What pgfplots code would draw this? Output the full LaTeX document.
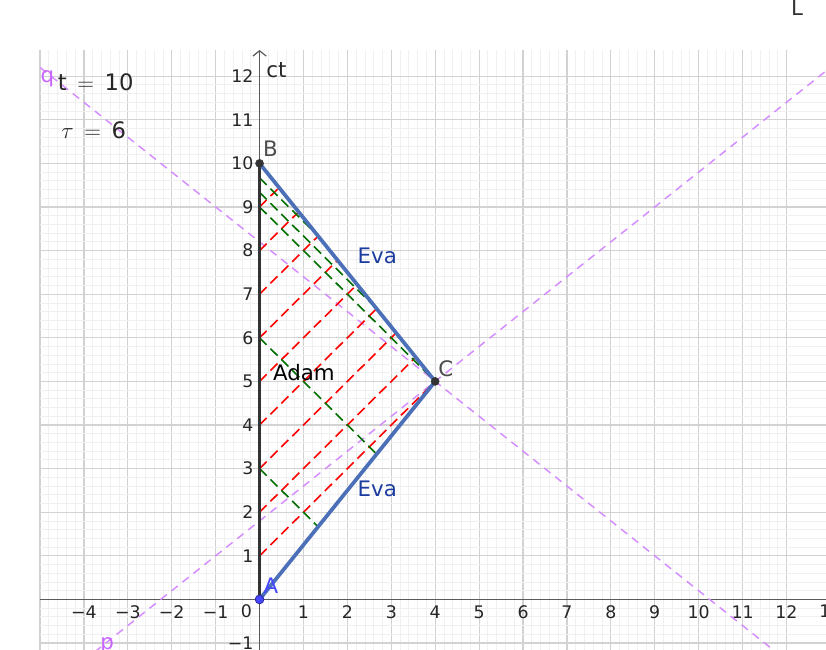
\documentclass[border=0pt]{standalone}
\usepackage{fontspec}
\setmainfont{DejaVu Sans}
\usepackage{pgfplots}
\pgfplotsset{compat=1.18}
\usetikzlibrary{arrows.meta}
\definecolor{majgrid}{RGB}{210,210,210}
\definecolor{mingrid}{RGB}{240,240,240}
\definecolor{axgray}{RGB}{90,90,90}
\definecolor{evablue}{RGB}{76,112,184}
\definecolor{evatext}{RGB}{28,60,160}
\definecolor{adam}{RGB}{51,51,51}
\definecolor{purp}{RGB}{212,140,255}
\definecolor{purptext}{RGB}{200,100,255}
\definecolor{ptblue}{RGB}{70,70,255}
\definecolor{sigred}{RGB}{255,0,0}
\definecolor{siggreen}{RGB}{0,110,0}
\begin{document}
\begin{tikzpicture}
\begin{axis}[
  x=32.93pt, y=32.7pt,
  xmin=-5, xmax=12.9, ymin=-1.15, ymax=12.6,
  axis lines=middle,
  axis line style={axgray, line width=0.9pt},
  x axis line style={-},
  y axis line style={-{Straight Barb[length=4pt,width=10pt]}},
  xtick={-5,...,12},
  xticklabels={,−4,−3,−2,−1,,1,2,3,4,5,6,7,8,9,10,11,12},
  ytick={-1,0,...,12},
  yticklabels={−1,,1,2,3,4,5,6,7,8,9,10,11,12},
  minor tick num=4,
  major tick length=0pt, minor tick length=0pt,
  grid=both,
  major grid style={majgrid, line width=0.9pt},
  minor grid style={mingrid, line width=0.6pt},
  tick label style={font=\fontsize{13}{15}\selectfont, text=black!85},
  xticklabel style={anchor=north, yshift=-1pt},
  yticklabel style={anchor=east, xshift=-1pt},
  /pgf/number format/assume math mode=true,
  clip=true,
]
% simultaneity lines p and q
\addplot[purp, line width=1.1pt, dash pattern=on 6pt off 4.5pt] coordinates {(-6,-3) (14,13)};
\addplot[purp, line width=1.1pt, dash pattern=on 6pt off 4.5pt] coordinates {(-6,13) (14,-3)};
% red signals from Adam
\addplot[sigred, line width=1.2pt, dash pattern=on 7.5pt off 4pt] coordinates {(0,1) (4,5)};
\addplot[sigred, line width=1.2pt, dash pattern=on 7.5pt off 4pt] coordinates {(0,2) (3.5556,5.5556)};
\addplot[sigred, line width=1.2pt, dash pattern=on 7.5pt off 4pt] coordinates {(0,3) (3.1111,6.1111)};
\addplot[sigred, line width=1.2pt, dash pattern=on 7.5pt off 4pt] coordinates {(0,4) (2.6667,6.6667)};
\addplot[sigred, line width=1.2pt, dash pattern=on 7.5pt off 4pt] coordinates {(0,5) (2.2222,7.2222)};
\addplot[sigred, line width=1.2pt, dash pattern=on 7.5pt off 4pt] coordinates {(0,6) (1.7778,7.7778)};
\addplot[sigred, line width=1.2pt, dash pattern=on 7.5pt off 4pt] coordinates {(0,7) (1.3333,8.3333)};
\addplot[sigred, line width=1.2pt, dash pattern=on 7.5pt off 4pt] coordinates {(0,8) (0.8889,8.8889)};
\addplot[sigred, line width=1.2pt, dash pattern=on 7.5pt off 4pt] coordinates {(0,9) (0.4444,9.4444)};
% green signals from Eva
\addplot[siggreen, line width=1.2pt, dash pattern=on 7.5pt off 4pt] coordinates {(0,3) (1.3333,1.6667)};
\addplot[siggreen, line width=1.2pt, dash pattern=on 7.5pt off 4pt] coordinates {(0,6) (2.6667,3.3333)};
\addplot[siggreen, line width=1.2pt, dash pattern=on 7.5pt off 4pt] coordinates {(0,9) (4,5)};
\addplot[siggreen, line width=1.2pt, dash pattern=on 7.5pt off 4pt] coordinates {(0,9.3333) (2.6667,6.6667)};
\addplot[siggreen, line width=1.2pt, dash pattern=on 7.5pt off 4pt] coordinates {(0,9.6667) (1.3333,8.3333)};
% Adam and Eva world lines
\addplot[adam, line width=2.8pt] coordinates {(0,0) (0,10)};
\addplot[evablue, line width=2.8pt] coordinates {(0,0) (4,5) (0,10)};
% points
\addplot[only marks, mark=*, mark size=3pt, mark options={fill=adam, draw=adam}] coordinates {(0,10) (4,5)};
\addplot[only marks, mark=*, mark size=3.3pt, mark options={fill=ptblue, draw=ptblue!60!black, line width=0.6pt}] coordinates {(0,0)};
% labels
\node[text=black!85, font=\fontsize{16}{18}\selectfont, anchor=west, inner sep=0pt] at (axis cs:0.15,12.13) {ct};
\node[text=black!70, font=\fontsize{16}{18}\selectfont, inner sep=0pt] at (axis cs:0.25,10.33) {B};
\node[text=black!70, font=\fontsize{16}{18}\selectfont, inner sep=0pt] at (axis cs:4.24,5.3) {C};
\node[text=ptblue, font=\fontsize{16}{18}\selectfont, inner sep=0pt] at (axis cs:0.26,0.32) {A};
\node[text=evatext, font=\fontsize{16}{18}\selectfont, inner sep=0pt] at (axis cs:2.68,7.87) {Eva};
\node[text=evatext, font=\fontsize{16}{18}\selectfont, inner sep=0pt] at (axis cs:2.68,2.53) {Eva};
\node[text=black, font=\fontsize{16}{18}\selectfont, inner sep=0pt] at (axis cs:1.01,5.2) {Adam};
\node[text=purptext, font=\fontsize{16}{18}\selectfont, inner sep=0pt] at (axis cs:-4.83,11.95) {q};
\node[text=purptext, font=\fontsize{16}{18}\selectfont, inner sep=0pt] at (axis cs:-3.47,-1.06) {p};
\node[text=black!85, font=\fontsize{17}{19}\selectfont, anchor=west, inner sep=0pt] at (axis cs:-4.6,11.86) {t\hspace{8pt}$=$\hspace{8pt}10};
\node[text=black!85, font=\fontsize{17}{19}\selectfont, anchor=west, inner sep=0pt] at (axis cs:-4.52,10.76) {$\tau$\hspace{8pt}$=$\hspace{8pt}6};
\node[text=black!85, font=\fontsize{13}{15}\selectfont, inner sep=0pt] at (axis cs:-0.3,-0.28) {0};
\coordinate (bl) at (axis cs:-5.911,-1.15);
\coordinate (tr) at (axis cs:12.9,13.747);
\coordinate (lpos) at (axis cs:12.24,13.58);
\coordinate (t13) at (axis cs:13.0,-0.28);
\end{axis}
\node[text=black!80, font=\fontsize{16}{18}\selectfont, inner sep=0pt] at (lpos) {L};
\node[text=black!85, font=\fontsize{13}{15}\selectfont, inner sep=0pt] at (t13) {13};
\pgfresetboundingbox
\path[use as bounding box] (bl) rectangle (tr);
\end{tikzpicture}
\end{document}
